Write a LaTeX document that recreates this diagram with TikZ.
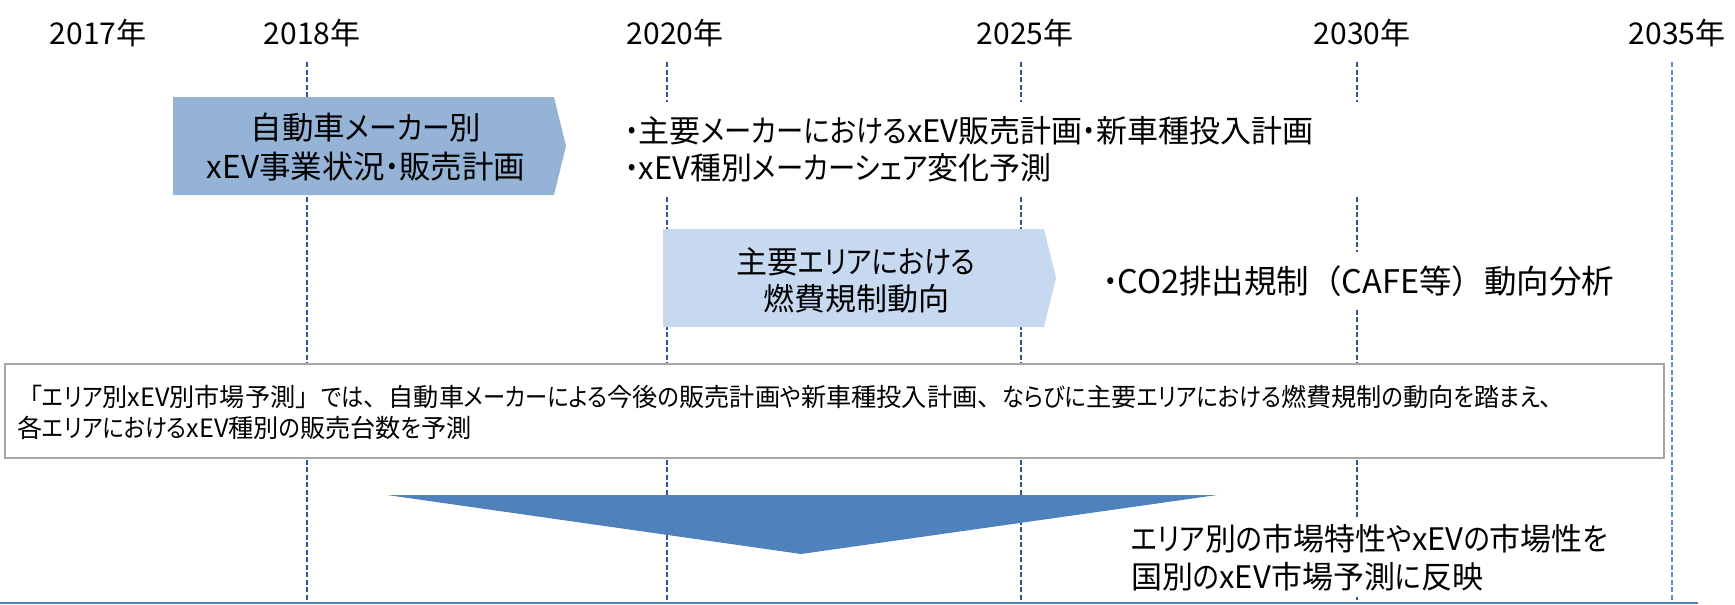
\documentclass[tikz,border=0pt]{standalone}
\usepackage{fontspec}
\setmainfont{Noto Sans CJK JP}
\newfontfamily\kanafont{Noto Sans CJK JP}[RawFeature=+palt, FakeStretch=0.88]
% narrower proportional kana (and the middle dot), like the reference's UI font
\XeTeXinterchartokenstate=1
\newXeTeXintercharclass\kanaclass
\newcount\kanacnt
\kanacnt="3041
\loop
  \XeTeXcharclass\kanacnt=\kanaclass
  \advance\kanacnt by 1
\ifnum\kanacnt<"3100 \repeat
\XeTeXcharclass"30A0=0
\foreach \c in {0,1,2,3,5,6,4095}{%
  \ifnum\c=\kanaclass\else
  \global\XeTeXinterchartoks \c \kanaclass = {\kanafont}%
  \global\XeTeXinterchartoks \kanaclass \c = {\normalfont}%
  \fi
}
\definecolor{navy}{HTML}{2F5597}
\definecolor{lblue}{HTML}{5B8BD0}
\definecolor{boxa}{HTML}{95B3D7}
\definecolor{boxb}{HTML}{C6D9F1}
\definecolor{tri}{HTML}{4F81BD}
\definecolor{gborder}{HTML}{A6A6A6}
\begin{document}
\begin{tikzpicture}[x=1pt,y=-1pt,
  yr/.style={font=\fontsize{30}{32}\selectfont, inner sep=0pt},
  vline/.style={draw=navy, line width=1.6pt, dash pattern=on 5pt off 2.5pt},
  vlinel/.style={draw=lblue, line width=1.6pt, dash pattern=on 5pt off 2.5pt},
  big/.style={font=\fontsize{31.5}{39}\selectfont, align=center, inner sep=0pt},
  txt/.style={font=\fontsize{31}{37}\selectfont, align=left, fill=white, inner xsep=7pt, inner ysep=0pt},
  small/.style={font=\fontsize{25.2}{31}\selectfont, align=left, inner sep=0pt}]
\useasboundingbox (0,0) rectangle (1735,605);
% year labels
\node[yr] (y2017) at (98,33) {2017年};
\node[yr] (y2018) at (312,33) {2018年};
\node[yr] (y2020) at (675,33) {2020年};
\node[yr] (y2025) at (1025,33) {2025年};
\node[yr] (y2030) at (1362,33) {2030年};
\node[yr] (y2035) at (1677,33) {2035年};
% dashed year lines
\foreach \n/\x in {a/307,b/667,c/1021,d/1357}{
  \coordinate (t\n) at (\x,62);
  \coordinate (e\n) at (\x,600);
  \draw[vline] (t\n) -- (e\n);
}
\coordinate (te) at (1672,62);
\coordinate (ee) at (1672,600);
\draw[vlinel] (te) -- (ee);
% bottom line
\coordinate (bl0) at (0,603);
\coordinate (bl1) at (1698,603);
\draw[tri, line width=2pt] (bl0) -- (bl1);
% box 1
\fill[boxa] (173,97) -- (554,97) -- (566,146) -- (554,195) -- (173,195) -- cycle;
\node[big] (b1) at (366,147) {自動車メーカー別\\xEV事業状況・販売計画};
% box 2
\fill[boxb] (663,229) -- (1044,229) -- (1056,278) -- (1044,327) -- (663,327) -- cycle;
\node[big, font=\fontsize{31}{37}\selectfont] (b2) at (856,280) {主要エリアにおける\\燃費規制動向};
% side texts
\node[txt, anchor=north west, text width=730pt, minimum height=95pt] (t1) at (618,102)
  {・主要メーカーにおけるxEV販売計画・新車種投入計画\\・xEV種別メーカーシェア変化予測};
\node[txt, anchor=west, minimum height=58pt, font=\fontsize{32.5}{37}\selectfont] (t2) at (1096,281) {・CO2排出規制（CAFE等）動向分析};
% big box
\node[draw=gborder, line width=2pt, fill=white, anchor=north west, minimum width=1659pt, minimum height=94pt, inner sep=0pt] (bb) at (4,363) {};
\node[small, anchor=west] (bt) at (17,412)
  {「エリア別xEV別市場予測」では、自動車メーカーによる今後の販売計画や新車種投入計画、ならびに主要エリアにおける燃費規制の動向を踏まえ、\\各エリアにおけるxEV種別の販売台数を予測};
% triangle
\fill[tri] (387,495) -- (1217,495) -- (801,554) -- cycle;
% bottom text
\node[txt, anchor=north west, text width=500pt, minimum height=80pt, font=\fontsize{31}{38}\selectfont] (t3) at (1124,517)
  {エリア別の市場特性やxEVの市場性を\\国別のxEV市場予測に反映};
\end{tikzpicture}
\end{document}
